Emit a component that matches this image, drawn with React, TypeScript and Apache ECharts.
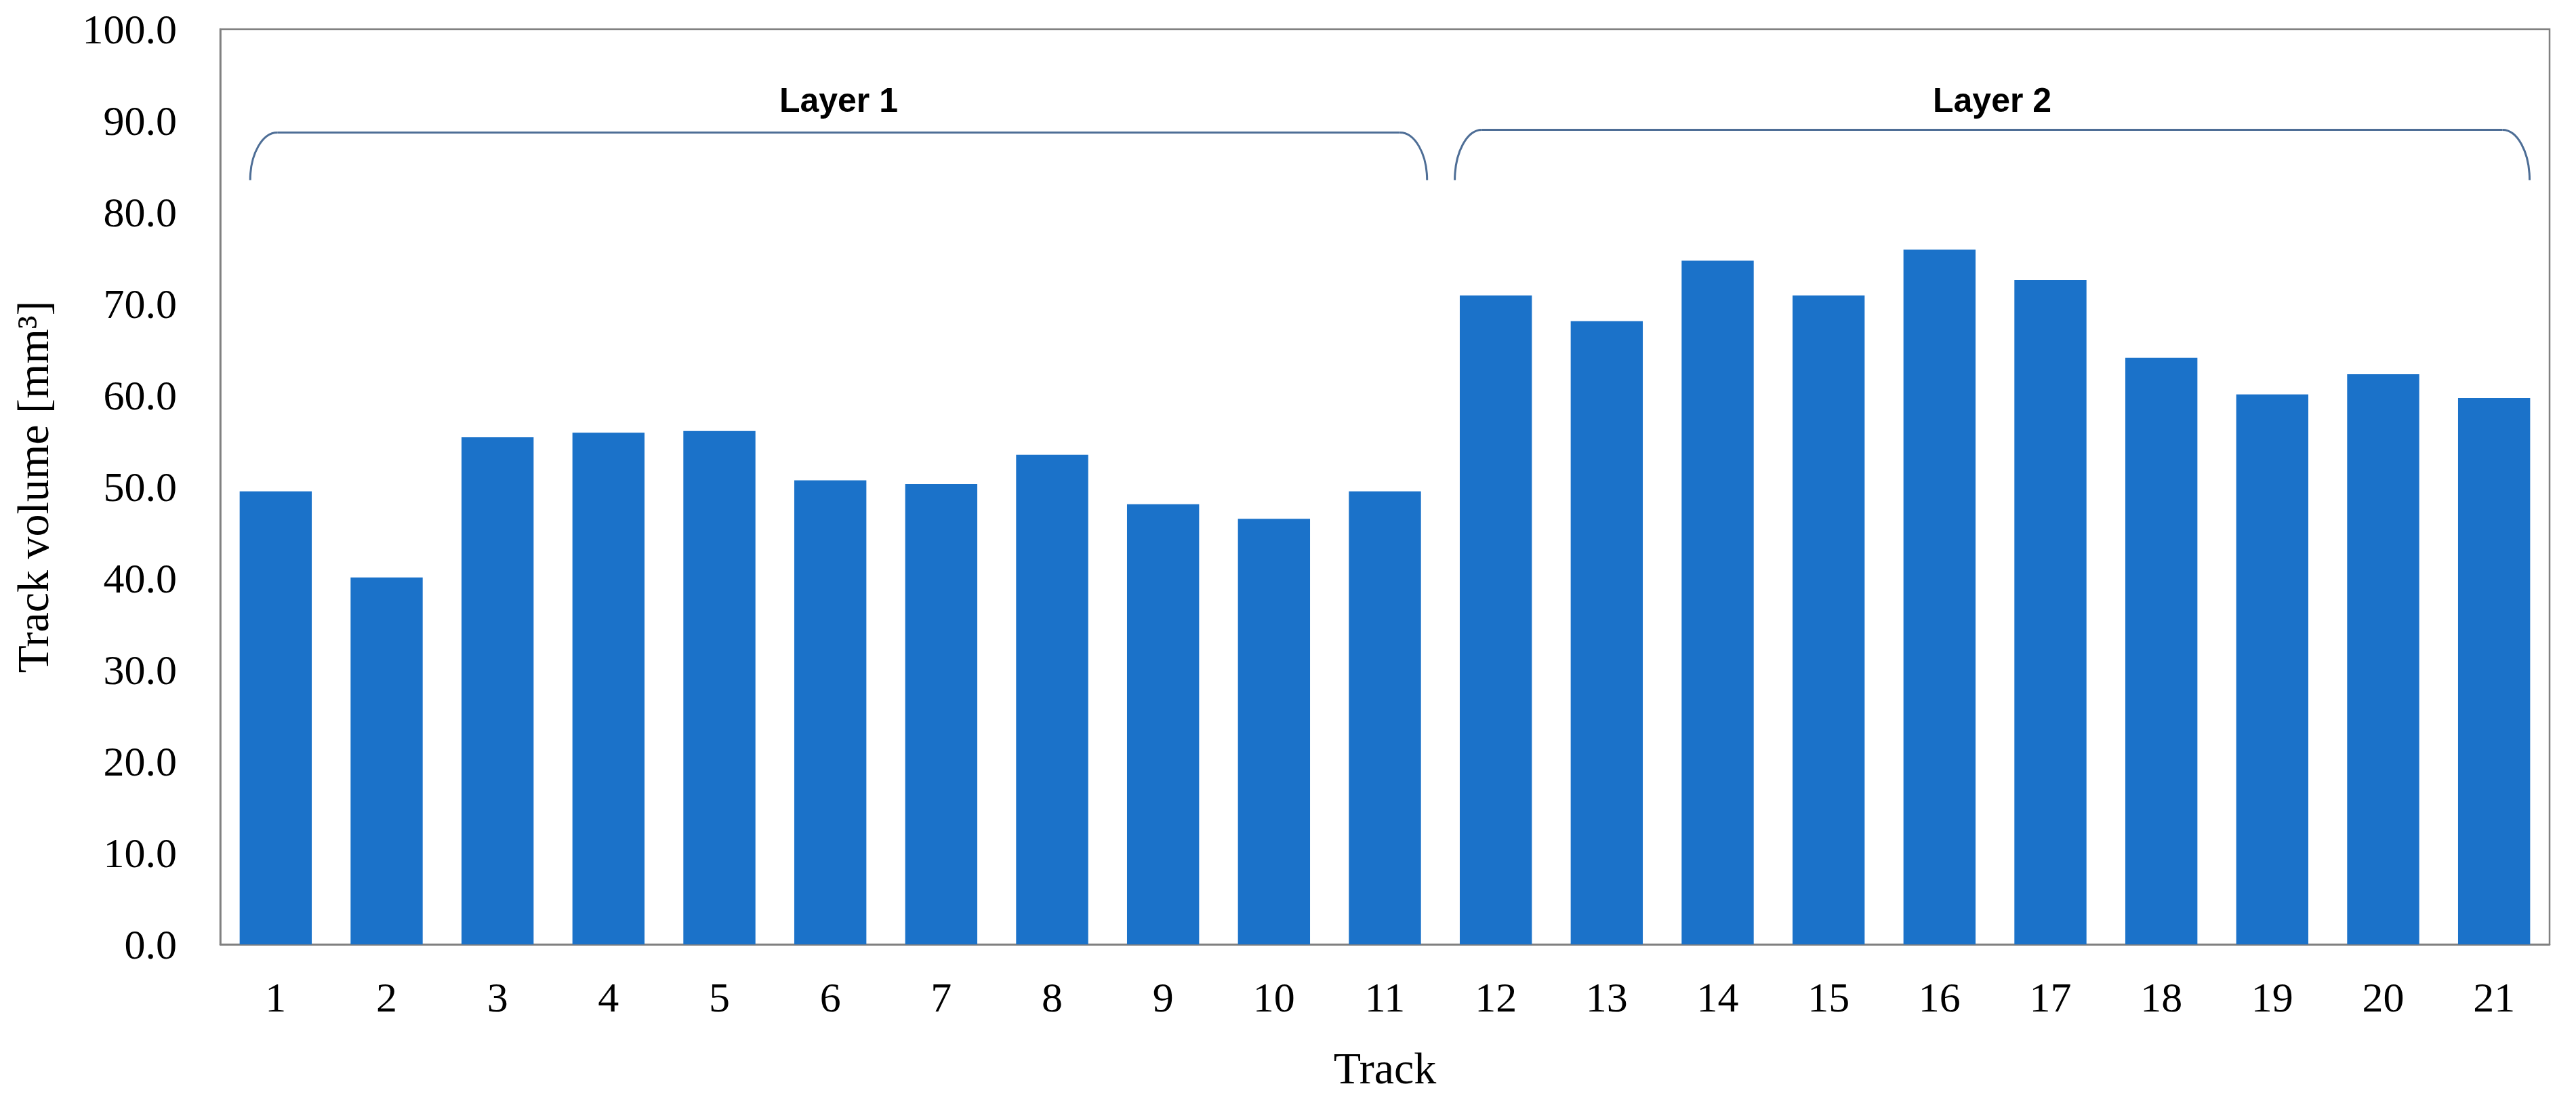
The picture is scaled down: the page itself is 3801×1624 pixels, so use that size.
import React, { useEffect, useRef } from "react";
import * as echarts from "echarts";

const tracks = ["1","2","3","4","5","6","7","8","9","10","11","12","13","14","15","16","17","18","19","20","21"];
const volumes = [49.5, 40.1, 55.4, 55.9, 56.1, 50.7, 50.3, 53.5, 48.1, 46.5, 49.5, 70.9, 68.1, 74.7, 70.9, 75.9, 72.6, 64.1, 60.1, 62.3, 59.7];
const layerNames = ["Layer 1", "Layer 2"];
// bracket extents in category-boundary units (0 = left edge of track 1, 21 = right edge of track 21)
const layerStart = [0.27, 11.13];
const layerEnd = [10.88, 20.82];
const bracketBottom = 83.5;
const bracketTop = [88.7, 89.0];
const labelLevel = 92.2;

const serif = "'Liberation Serif', 'Times New Roman', serif";
const bracketColor = "#4E6E96";

export default function App() {
  const ref = useRef<HTMLDivElement>(null);
  useEffect(() => {
    if (!ref.current) return;
    const chart = echarts.init(ref.current, undefined, { renderer: "svg" });
    chart.setOption({
      animation: false,
      backgroundColor: "#ffffff",
      grid: {
        left: 325, right: 39, top: 43, bottom: 231,
        show: true, borderColor: "#808080", borderWidth: 2.5, backgroundColor: "transparent",
      },
      xAxis: {
        type: "category",
        data: tracks,
        name: "Track",
        nameLocation: "middle",
        nameGap: 149,
        nameTextStyle: { fontFamily: serif, fontSize: 66, color: "#000" },
        axisLine: { show: true, lineStyle: { color: "#808080", width: 2.5 } },
        axisTick: { show: false },
        axisLabel: { fontFamily: serif, fontSize: 62, color: "#000", margin: 47, interval: 0 },
      },
      yAxis: {
        type: "value",
        min: 0, max: 100, interval: 10,
        name: "Track volume [mm³]",
        nameLocation: "middle",
        nameGap: 244,
        nameTextStyle: { fontFamily: serif, fontSize: 66, color: "#000" },
        axisLine: { show: true, lineStyle: { color: "#808080", width: 2.5 } },
        axisTick: { show: false },
        splitLine: { show: false },
        axisLabel: { fontFamily: serif, fontSize: 62, color: "#000", margin: 64, formatter: (v: number) => v.toFixed(1) },
      },
      series: [{
        type: "bar",
        data: volumes,
        barCategoryGap: "35%",
        itemStyle: { color: "#1B72C9" },
      }],
    });

    const p0 = chart.convertToPixel({ xAxisIndex: 0 }, 0) as number;
    const p1 = chart.convertToPixel({ xAxisIndex: 0 }, 1) as number;
    const bw = p1 - p0;
    const xu = (u: number) => p0 + (u - 0.5) * bw;
    const yv = (v: number) => chart.convertToPixel({ yAxisIndex: 0 }, v) as number;

    const graphics: any[] = [];
    layerNames.forEach((name, i) => {
      const xL = xu(layerStart[i]);
      const xR = xu(layerEnd[i]);
      const yB = yv(bracketBottom);
      const yT = yv(bracketTop[i]);
      const rx = 40;
      const ry = yB - yT;
      const k = 0.552;
      const ls = { stroke: bracketColor, lineWidth: 3, fill: "none" };
      graphics.push({
        type: "bezierCurve", silent: true,
        shape: { x1: xL, y1: yB, x2: xL + rx, y2: yT, cpx1: xL, cpy1: yB - k * ry, cpx2: xL + rx - k * rx, cpy2: yT },
        style: ls,
      });
      graphics.push({
        type: "line", silent: true,
        shape: { x1: xL + rx, y1: yT, x2: xR - rx, y2: yT },
        style: ls,
      });
      graphics.push({
        type: "bezierCurve", silent: true,
        shape: { x1: xR, y1: yB, x2: xR - rx, y2: yT, cpx1: xR, cpy1: yB - k * ry, cpx2: xR - rx + k * rx, cpy2: yT },
        style: ls,
      });
      graphics.push({
        type: "text", silent: true,
        x: (xL + xR) / 2, y: yv(labelLevel),
        style: {
          text: name, fontFamily: "'Liberation Sans', Arial, sans-serif", fontWeight: "bold", fontSize: 50,
          fill: "#000", align: "center", verticalAlign: "middle",
        },
      });
    });
    chart.setOption({ graphic: graphics });

    return () => chart.dispose();
  }, []);
  return <div ref={ref} style={{ position: "absolute", left: 0, top: 0, width: 3801, height: 1624 }} />;
}
